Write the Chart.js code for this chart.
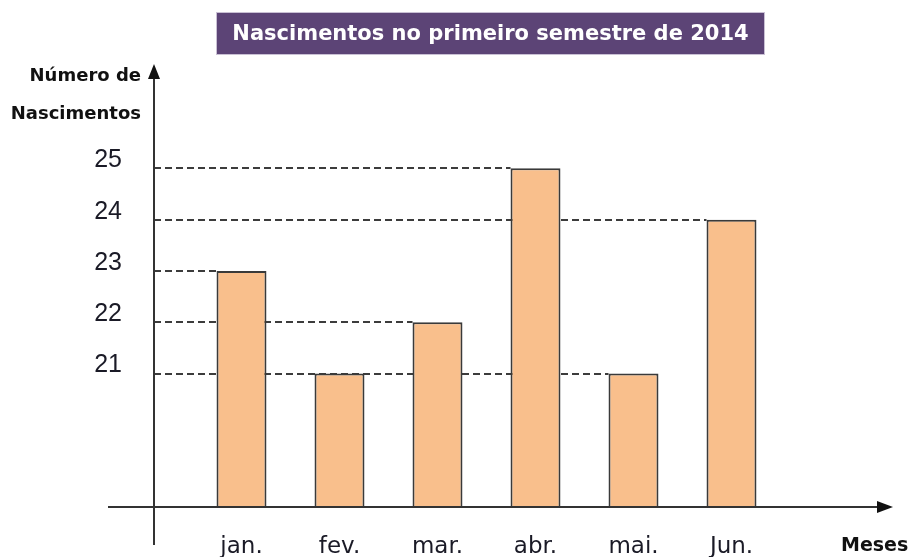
<!doctype html>
<html>
<head>
    <meta charset="utf-8">
    <title>Nascimentos</title>
    <script src="https://cdn.jsdelivr.net/npm/chart.js"></script>
    <style>
        html, body { margin: 0; padding: 0; background: #fff; }
        #grafico { display: block; }
    </style>
</head>
<body>
    <canvas id="grafico" width="920" height="557"></canvas>

    <script>
        var meses = ["jan.", "fev.", "mar.", "abr.", "mai.", "Jun."]
        var nascimentos = [23, 21, 22, 25, 21, 24]
        var marcasY = [21, 22, 23, 24, 25]
        var titulo = "Nascimentos no primeiro semestre de 2014"
        var rotuloY = ["Número de", "Nascimentos"]
        var rotuloX = "Meses"

        var fonte = "'DejaVu Sans', sans-serif"
        var corTexto = '#1a1a26'
        var corLinha = '#333333'

        // eixos com setas, linhas tracejadas, titulo e rotulos
        var desenhoExtra = {
            id: 'desenhoExtra',
            beforeDatasetsDraw(chart) {
                var ctx = chart.ctx
                var area = chart.chartArea
                var y = chart.scales.y
                var meta = chart.getDatasetMeta(0)
                var eixoX = area.left - 38.5

                ctx.save()
                ctx.strokeStyle = '#3c3c3c'
                ctx.lineWidth = 2
                ctx.setLineDash([7, 4])
                marcasY.forEach(function (v) {
                    var idx = nascimentos.lastIndexOf(v)
                    if (idx < 0) return
                    var barra = meta.data[idx]
                    var py = Math.round(y.getPixelForValue(v))
                    ctx.beginPath()
                    ctx.moveTo(eixoX, py)
                    ctx.lineTo(barra.x - barra.width / 2, py)
                    ctx.stroke()
                })
                ctx.restore()
            },
            afterDraw(chart) {
                var ctx = chart.ctx
                var area = chart.chartArea
                var eixoX = area.left - 38.5
                var base = area.bottom

                ctx.save()
                ctx.strokeStyle = corLinha
                ctx.fillStyle = '#111'
                ctx.lineWidth = 2

                // eixo vertical
                ctx.beginPath()
                ctx.moveTo(eixoX, 545)
                ctx.lineTo(eixoX, 74)
                ctx.stroke()
                ctx.beginPath()
                ctx.moveTo(eixoX, 64)
                ctx.lineTo(eixoX - 6, 79)
                ctx.lineTo(eixoX + 6, 79)
                ctx.closePath()
                ctx.fill()

                // eixo horizontal
                ctx.beginPath()
                ctx.moveTo(108, base)
                ctx.lineTo(880, base)
                ctx.stroke()
                ctx.beginPath()
                ctx.moveTo(893, base)
                ctx.lineTo(877, base - 6)
                ctx.lineTo(877, base + 6)
                ctx.closePath()
                ctx.fill()

                // titulo
                ctx.fillStyle = '#5c4476'
                ctx.fillRect(216, 12, 549, 43)
                ctx.strokeStyle = '#c9c0d4'
                ctx.lineWidth = 1
                ctx.strokeRect(216.5, 12.5, 548, 42)
                ctx.fillStyle = '#ffffff'
                ctx.font = 'bold 21px ' + fonte
                ctx.textAlign = 'center'
                ctx.textBaseline = 'middle'
                ctx.fillText(titulo, 490.5, 35)

                // rotulos dos eixos
                ctx.fillStyle = '#111'
                ctx.font = 'bold 18px ' + fonte
                ctx.textAlign = 'right'
                ctx.fillText(rotuloY[0], 141, 76)
                ctx.fillText(rotuloY[1], 141, 114)
                ctx.textAlign = 'left'
                ctx.font = 'bold 19px ' + fonte
                ctx.fillText(rotuloX, 841, 546)
                ctx.restore()
            }
        }

        var grafico = new Chart(document.getElementById('grafico').getContext('2d'), {
            type: 'bar',
            data: {
                labels: meses,
                datasets: [{
                    data: nascimentos,
                    backgroundColor: '#f9bf8c',
                    borderColor: '#3a3a3a',
                    borderWidth: 2,
                    barPercentage: 0.51,
                    categoryPercentage: 1
                }]
            },
            options: {
                responsive: false,
                animation: false,
                layout: {
                    padding: { top: 117, right: 139.5, bottom: 0, left: 0 }
                },
                plugins: {
                    legend: { display: false },
                    tooltip: { enabled: false },
                    title: { display: false }
                },
                scales: {
                    x: {
                        offset: true,
                        border: { display: false },
                        grid: { display: false, drawTicks: false },
                        ticks: {
                            color: corTexto,
                            padding: 26,
                            font: { size: 23, family: fonte }
                        },
                        afterFit: function (s) { s.height = 50 }
                    },
                    y: {
                        min: 18.4,
                        max: 26,
                        border: { display: false },
                        grid: { display: false, drawTicks: false },
                        afterBuildTicks: function (s) {
                            s.ticks = marcasY.map(function (v) { return { value: v } })
                        },
                        ticks: {
                            color: corTexto,
                            padding: 70.5,
                            labelOffset: -8,
                            font: { size: 25, family: "'Liberation Sans', sans-serif" }
                        },
                        afterFit: function (s) {
                            s.width = 192.5
                            s.paddingTop = 0
                            s.paddingBottom = 0
                        }
                    }
                }
            },
            plugins: [desenhoExtra]
        });
    </script>
</body>
</html>
